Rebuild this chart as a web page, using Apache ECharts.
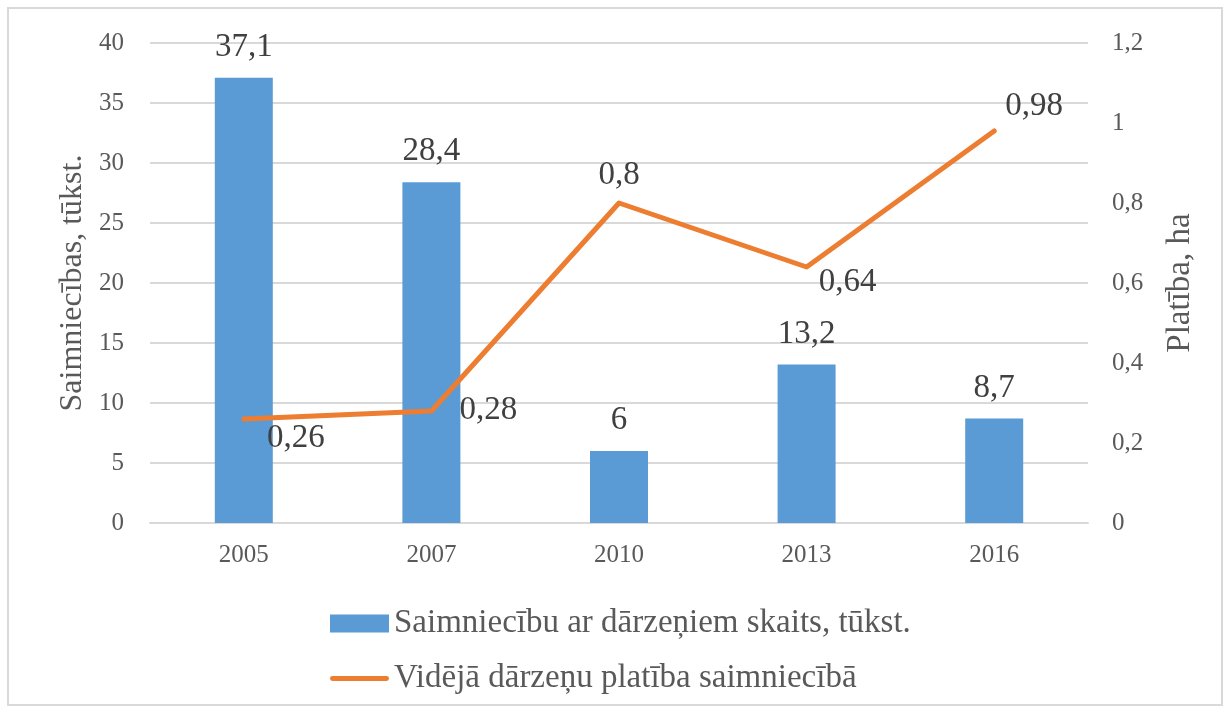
<!DOCTYPE html>
<html lang="lv">
<head>
<meta charset="UTF-8">
<title>Saimniecības</title>
<script src="https://cdn.jsdelivr.net/npm/echarts@6/dist/echarts.min.js"></script>
<style>
	* { margin: 0; padding: 0; }
	html, body, #main { width: 100%; height: 100%; background: #fff; }
</style>
</head>
<body>
<div id="main"></div>
<script>
	const years = ['2005', '2007', '2010', '2013', '2016'];
	const farms = [37.1, 28.4, 6, 13.2, 8.7];
	const area = [0.26, 0.28, 0.8, 0.64, 0.98];
	// where each line label sits relative to its point
	const areaLabelPos = [[52, 19], [57, -1], [0, -28], [41, 15], [40, -25]];

	const FONT = 'Liberation Serif';
	const comma = v => String(v).replace('.', ',');

	const chart = echarts.init(document.getElementById('main'));

	const option = {
		textStyle: { fontFamily: FONT },
		graphic: [{
			type: 'rect',
			shape: { x: 8, y: 8, width: 1214, height: 697 },
			style: { fill: 'none', stroke: '#d9d9d9', lineWidth: 2 }
		}],
		grid: { left: 150, right: 142, top: 43, bottom: 190 },
		legend: {
			orient: 'vertical',
			left: 325,
			top: 602,
			itemGap: 22,
			itemWidth: 59,
			itemHeight: 18,
			textStyle: { fontFamily: FONT, fontSize: 33, color: '#595959' },
			data: [
				{ name: 'Saimniecību ar dārzeņiem skaits, tūkst.', icon: 'rect' },
				{
					name: 'Vidējā dārzeņu platība saimniecībā',
					icon: 'path://M2.5,0 H57.5 A2.5,2.5 0 0 1 57.5,5 H2.5 A2.5,2.5 0 0 1 2.5,0 Z',
					itemStyle: { color: '#ed7d31' }
				}
			]
		},
		xAxis: {
			type: 'category',
			data: years,
			axisLine: { lineStyle: { color: '#d9d9d9', width: 2 } },
			axisTick: { show: false },
			axisLabel: { fontFamily: FONT, fontSize: 25, color: '#595959', margin: 20 }
		},
		yAxis: [{
			type: 'value',
			min: 0, max: 40, interval: 5,
			name: 'Saimniecības, tūkst.',
			nameLocation: 'middle',
			nameRotate: 90,
			nameGap: 60,
			nameTextStyle: { fontFamily: FONT, fontSize: 32, color: '#595959' },
			axisLabel: { fontFamily: FONT, fontSize: 25, color: '#595959', margin: 26 },
			splitLine: { lineStyle: { color: '#d9d9d9', width: 2 } }
		}, {
			type: 'value',
			min: 0, max: 1.2, interval: 0.2,
			name: 'Platība, ha',
			nameLocation: 'middle',
			nameRotate: 90,
			nameGap: 76,
			nameTextStyle: { fontFamily: FONT, fontSize: 33, color: '#595959' },
			axisLabel: { fontFamily: FONT, fontSize: 25, color: '#595959', margin: 24, formatter: comma },
			splitLine: { show: false }
		}],
		series: [{
			name: 'Saimniecību ar dārzeņiem skaits, tūkst.',
			type: 'bar',
			data: farms,
			barWidth: 58,
			itemStyle: { color: '#5b9bd5' },
			label: {
				show: true,
				position: 'top',
				distance: 14,
				fontFamily: FONT,
				fontSize: 33,
				color: '#404040',
				formatter: p => comma(p.value)
			}
		}, {
			name: 'Vidējā dārzeņu platība saimniecībā',
			type: 'line',
			yAxisIndex: 1,
			data: area.map((v, i) => ({
				value: v,
				label: { offset: areaLabelPos[i] }
			})),
			symbol: 'circle',
			symbolSize: 1,
			lineStyle: { color: '#ed7d31', width: 5, cap: 'round', join: 'round' },
			itemStyle: { color: '#ed7d31' },
			label: {
				show: true,
				position: 'inside',
				fontFamily: FONT,
				fontSize: 33,
				color: '#404040',
				formatter: p => comma(p.value)
			}
		}]
	};

	chart.setOption(option);
</script>
</body>
</html>
